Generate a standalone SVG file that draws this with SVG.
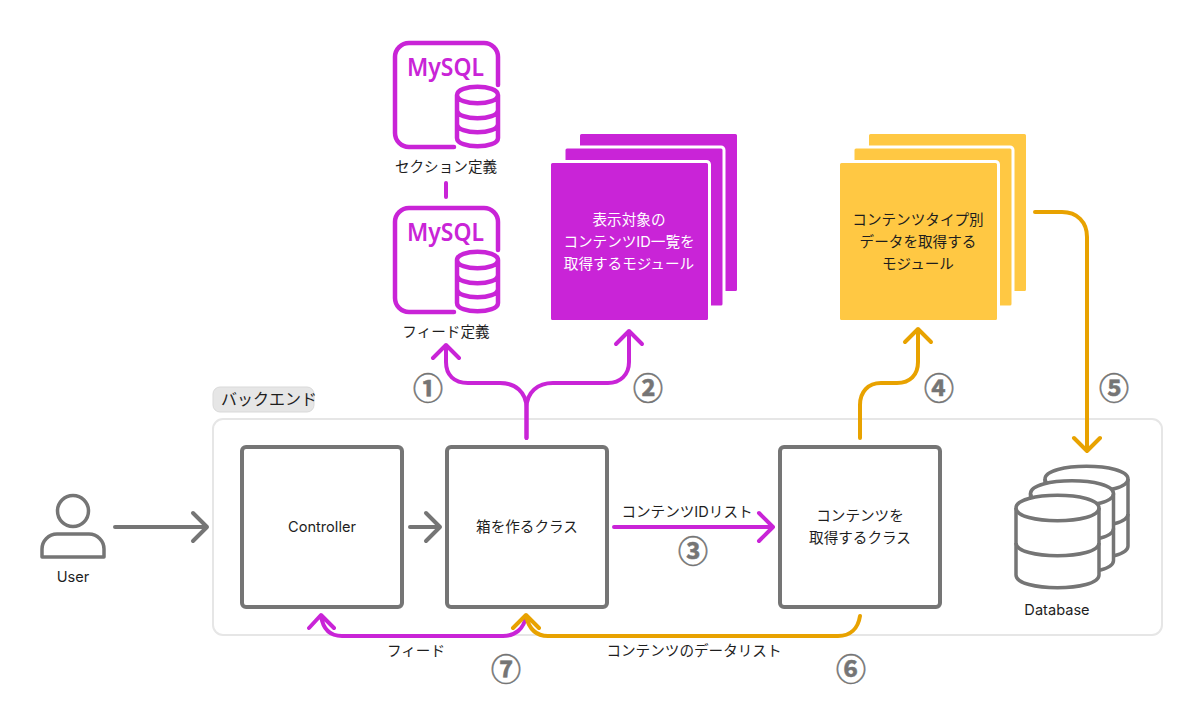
<svg xmlns="http://www.w3.org/2000/svg" width="1200" height="720" viewBox="0 0 1200 720">
<style>
text{font-family:Inter,"Noto Sans CJK JP",sans-serif;font-size:14.6px;fill:#1e1e1e;text-anchor:middle}
.box{fill:#fff;stroke:#757575;stroke-width:4}
.m{fill:none;stroke:#c924d7;stroke-width:4;stroke-linecap:round;stroke-linejoin:round}
.o{fill:none;stroke:#e8a200;stroke-width:4;stroke-linecap:round;stroke-linejoin:round}
.g{fill:none;stroke:#757575;stroke-width:4;stroke-linecap:round;stroke-linejoin:round}
.num{font-family:"Noto Sans CJK JP",sans-serif;font-size:30px;font-weight:700;fill:#757575;stroke:#757575;stroke-width:.5}
.logo{font-family:"Noto Sans",sans-serif;font-weight:600;font-size:25px;fill:#c924d7}
.cm{fill:#c924d7;stroke:#fff;stroke-width:3}
.cy{fill:#ffc843;stroke:#fff;stroke-width:3}
.db{fill:#fff;stroke:#757575;stroke-width:3.5;stroke-linejoin:round}
</style>
<defs>
<g id="mysql">
<path class="m" style="stroke-width:4.5" d="M498 85V57a14 14 0 0 0-14-14H409a14 14 0 0 0-14 14V133a14 14 0 0 0 14 14H454"/>
<text class="logo" x="445.500" y="76" textLength="77" lengthAdjust="spacingAndGlyphs">MySQL</text>
<path class="m" style="stroke-width:4.5" d="M457 95c0-11 41-11 41 0s-41 11-41 0V138c0 11 41 11 41 0V95M457 110c0 11 41 11 41 0M457 124c0 11 41 11 41 0"/>
</g>
<g id="dbc">
<path class="db" d="M1016 508c0-17 83-17 83 0V575c0 17-83 17-83 0Z"/>
<path class="db" d="M1016 508c0 17 83 17 83 0M1016 543c0 17 83 17 83 0" style="fill:none"/>
</g>
</defs>
<rect id="backend" x="213" y="419" width="949" height="216" rx="10" fill="#fff" stroke="#e6e6e6" stroke-width="2"/>
<g id="backend-label"><rect x="213" y="387" width="101" height="25" rx="7" fill="#e6e6e6" stroke="#d9d9d9"/><text x="269" y="405" style="font-size:16px">バックエンド</text></g>
<g id="controller"><rect class="box" x="242" y="447" width="160" height="160" rx="4"/><text x="322" y="532">Controller</text></g>
<g id="box-class"><rect class="box" x="447" y="447" width="160" height="160" rx="4"/><text x="527" y="532">箱を作るクラス</text></g>
<g id="content-class"><rect class="box" x="780" y="447" width="160" height="160" rx="4"/><text x="860" y="521">コンテンツを</text><text x="860" y="543">取得するクラス</text></g>
<g id="user"><circle cx="73" cy="511" r="15.500" class="g" style="stroke-width:3.5"/><path class="g" style="stroke-width:3.5" d="M42 557V549a15 15 0 0 1 15-15H89a15 15 0 0 1 15 15V557Z"/><text x="73" y="582">User</text></g>
<g id="section-def"><use href="#mysql"/><text x="446" y="172">セクション定義</text></g>
<g id="feed-def"><use href="#mysql" y="165"/><text x="446" y="337">フィード定義</text></g>
<g id="list-module"><rect class="cm" x="578.500" y="132.500" width="160" height="160" rx="3"/><rect class="cm" x="564" y="147" width="160" height="160" rx="3"/><rect class="cm" x="549.500" y="161.500" width="160" height="160" rx="3"/><text x="629" y="225" style="fill:#fff">表示対象の</text><text x="629" y="247" style="fill:#fff">コンテンツID一覧を</text><text x="629" y="269" style="fill:#fff">取得するモジュール</text></g>
<g id="type-module"><rect class="cy" x="867.500" y="132.500" width="160" height="160" rx="3"/><rect class="cy" x="853" y="147" width="160" height="160" rx="3"/><rect class="cy" x="838.500" y="161.500" width="160" height="160" rx="3"/><text x="918" y="225">コンテンツタイプ別</text><text x="918" y="247">データを取得する</text><text x="918" y="269">モジュール</text></g>
<g id="database"><use href="#dbc" x="29" y="-29"/><use href="#dbc" x="14.500" y="-14.500"/><use href="#dbc"/><text x="1057" y="615">Database</text></g>
<g id="connectors">
<path class="m" d="M446 183V197"/>
<path class="g" d="M115 527H207M193 513L207 527L193 541"/>
<path class="g" d="M410 527H440M426 513L440 527L426 541"/>
<path class="m" d="M614 527H773M759 513L773 527L759 541"/>
<path class="m" d="M526.500 438V408C526.500 392 515 383 500 383H468C454 383 446 375 446 362V345M433 358L446 345L459 358"/>
<path class="m" d="M526.500 438V408C526.500 392 538 383 553 383H608C620 383 629 375 629 362V331M616 344L629 331L642 344"/>
<path class="o" d="M860 438V405C860 392 868 383 881 383H897C910 383 918 375 918 362V329M905 342L918 329L931 342"/>
<path class="o" d="M1035 212H1062C1077 212 1087 222 1087 237V451M1074 438L1087 451L1100 438"/>
<path class="m" d="M526 616C524 629 515 636 503 636H342C330 636 323 629 321 616M309 628L321 615L334 628"/>
<path class="o" d="M860 616C858 629 850 636 838 636H548C536 636 529 629 526 616M513 628L526 615L539 628"/>
</g>
<text x="687" y="517">コンテンツIDリスト</text>
<text x="416" y="656">フィード</text>
<text x="694" y="656">コンテンツのデータリスト</text>
<text class="num" x="428" y="399">①</text>
<text class="num" x="648" y="399">②</text>
<text class="num" x="693" y="562">③</text>
<text class="num" x="939" y="399">④</text>
<text class="num" x="1114" y="399">⑤</text>
<text class="num" x="851" y="680">⑥</text>
<text class="num" x="506" y="680">⑦</text>
</svg>
